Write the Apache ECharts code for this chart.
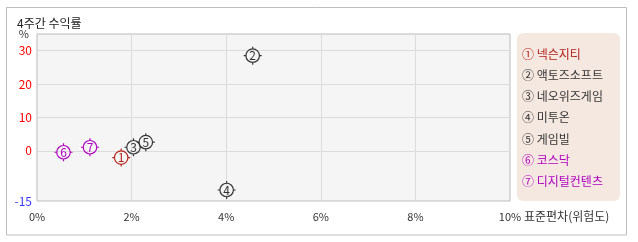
<!DOCTYPE html>
<html><head><meta charset="utf-8">
<script src="https://cdn.jsdelivr.net/npm/echarts@6/dist/echarts.min.js"></script>
<style>html,body{margin:0;padding:0;background:#fff}#c{width:638px;height:242px}</style>
</head><body><div id="c"></div>
<script>
var names = ['넥슨지티','액토즈소프트','네오위즈게임','미투온','게임빌','코스닥','디지털컨텐츠'];
var marks = ['①','②','③','④','⑤','⑥','⑦'];
var digits = ['1','2','3','4','5','6','7'];
var stdev = [1.78, 4.56, 2.04, 4.01, 2.30, 0.56, 1.12];
var returns = [-2.0, 28.5, 1.1, -11.7, 2.6, -0.4, 1.1];
var colors = ['#b5221c','#333333','#333333','#333333','#333333','#b000c0','#b000c0'];
var yTicks = [30, 20, 10, 0, -15];
var xGrid = [2, 4, 6, 8];
var yGrid = [30, 20, 10, 0];

var FONT = '"Noto Sans CJK KR", "Noto Sans", sans-serif';
var sym = 'path://M10,2.5A7.5,7.5 0 1 1 9.99,2.5ZM10,0L10,2.5M10,17.5L10,20M0,10L2.5,10M17.5,10L20,10';

var series = names.map(function (n, i) {
  return {
    type: 'scatter',
    name: marks[i] + ' ' + n,
    data: [[stdev[i], returns[i]]],
    symbol: sym,
    symbolSize: 18,
    z: 5,
    itemStyle: { color: 'rgba(245,245,245,0)', borderColor: colors[i], borderWidth: 1.2, opacity: 1 },
    label: { show: true, position: 'inside', formatter: digits[i], color: colors[i], fontSize: 12, fontFamily: FONT },
    emphasis: { disabled: true }
  };
});
series.push({
  type: 'scatter', name: '_grid', data: [], silent: true,
  markLine: {
    silent: true, symbol: 'none', animation: false,
    label: { show: false },
    lineStyle: { color: '#dcdcdc', type: 'solid', width: 1 },
    data: yGrid.map(function (v) { return { yAxis: v }; }).concat(xGrid.map(function (v) { return { xAxis: v }; }))
  }
});

var chart = echarts.init(document.getElementById('c'));
chart.setOption({
  animation: false,
  textStyle: { fontFamily: FONT },
  title: { text: '4주간 수익률', left: 12, top: 12, textStyle: { fontSize: 12, fontWeight: 'normal', color: '#222', fontFamily: FONT } },
  graphic: [
    { type: 'rect', shape: { x: 6.5, y: 7.5, width: 620, height: 227.5 }, style: { fill: 'none', stroke: '#bdbdbd', lineWidth: 1 }, z: -10 },
    { type: 'rect', shape: { x: 517, y: 33, width: 103, height: 168, r: 6 }, style: { fill: '#f5e8e1' }, z: -10 }
  ],
  grid: { left: 37, top: 34, right: 128, bottom: 41, show: true, backgroundColor: '#f5f5f5', borderColor: '#bbbbbb', borderWidth: 1 },
  legend: {
    orient: 'vertical', left: 512, top: 42, itemWidth: 0, itemHeight: 14, itemGap: 7.3,
    selectedMode: false, icon: 'rect',
    itemStyle: { color: 'rgba(0,0,0,0)', borderWidth: 0, opacity: 0 },
    textStyle: { fontSize: 12, lineHeight: 14, fontFamily: FONT },
    data: names.map(function (n, i) { return { name: marks[i] + ' ' + n, textStyle: { color: colors[i] } }; })
  },
  xAxis: {
    type: 'value', min: 0, max: 10, interval: 2,
    axisLine: { show: false, onZero: false }, axisTick: { show: false }, splitLine: { show: false },
    axisLabel: { margin: 10, fontSize: 11, color: '#333', formatter: function (v) { return v + '%'; } },
    name: '표준편차(위험도)', nameLocation: 'end', nameGap: 14, nameMoveOverlap: false,
    nameTextStyle: { fontSize: 12, color: '#333', align: 'left', verticalAlign: 'top', padding: [9, 0, 0, 0] }
  },
  yAxis: {
    type: 'value', min: -15, max: 35, interval: 5,
    axisLine: { show: false, onZero: false }, axisTick: { show: false }, splitLine: { show: false },
    axisLabel: {
      margin: 5, fontSize: 12, showMinLabel: true, showMaxLabel: false,
      formatter: function (v) { return yTicks.indexOf(v) >= 0 ? String(v) : ''; },
      color: function (v) { return Number(v) < 0 ? '#3a3aff' : '#ff0000'; }
    },
    name: '%', nameLocation: 'end', nameGap: 0, nameMoveOverlap: false,
    nameTextStyle: { fontSize: 11, color: '#333', align: 'right', verticalAlign: 'middle', padding: [0, 8, 0, 0] }
  },
  series: series
});
</script></body></html>
